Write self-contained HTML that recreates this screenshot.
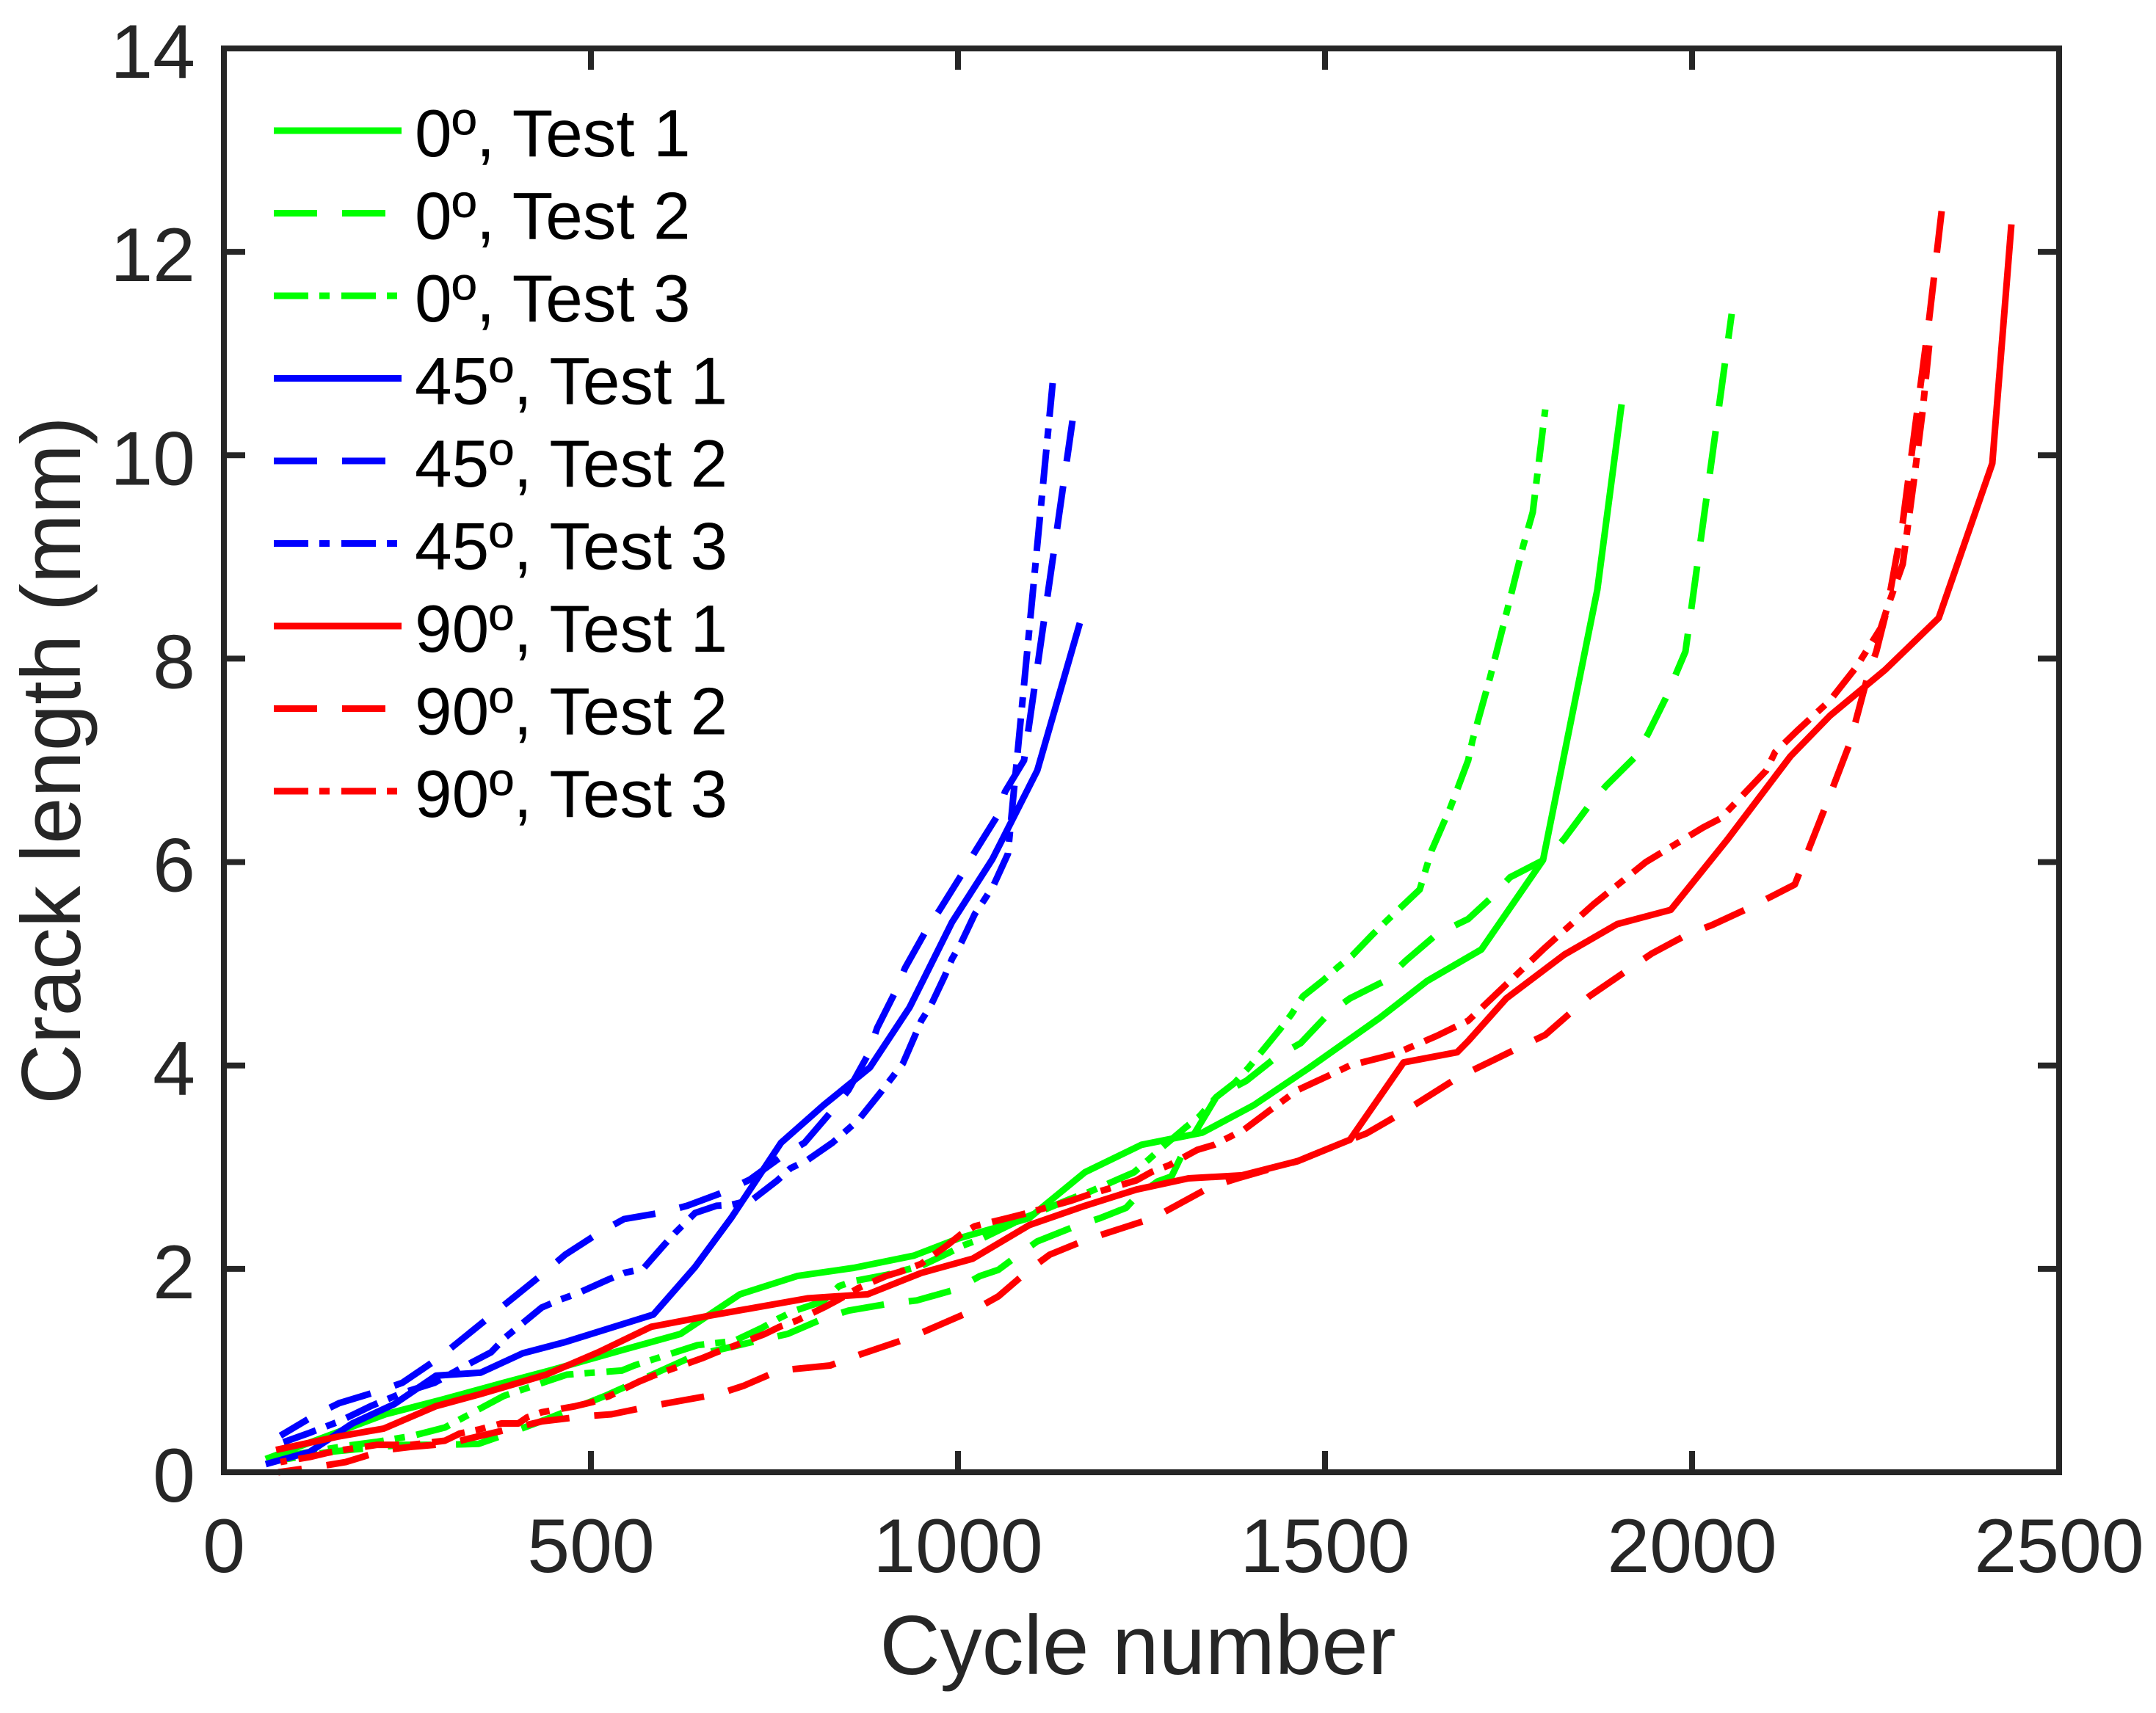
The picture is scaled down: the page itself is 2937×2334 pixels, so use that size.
<!DOCTYPE html>
<html lang="en">
<head>
<meta charset="utf-8">
<title>Crack length vs cycle number</title>
<style>
html,body{margin:0;padding:0;background:#fff;}
svg{display:block;}
text{font-family:"Liberation Sans",Arial,sans-serif;}
</style>
</head>
<body>
<svg id="chart" xmlns="http://www.w3.org/2000/svg" width="2937" height="2334" viewBox="0 0 2937 2334">
<rect x="0" y="0" width="2937" height="2334" fill="#ffffff"/>
<g id="series"></g>
<rect x="305" y="66" width="2500" height="1940" fill="none" stroke="#262626" stroke-width="8"/>
<g id="ticks"></g>
<text x="1550" y="2281" font-size="114" fill="#262626" text-anchor="middle">Cycle number</text>
<text transform="translate(109 1036) rotate(-90)" font-size="114" fill="#262626" text-anchor="middle">Crack length (mm)</text>
<g id="legend"></g>
</svg>
<script>
const xTicks = [0, 500, 1000, 1500, 2000, 2500];
const yTicks = [0, 2, 4, 6, 8, 10, 12, 14];

const legendLabels = ["0º, Test 1", "0º, Test 2", "0º, Test 3", "45º, Test 1", "45º, Test 2", "45º, Test 3", "90º, Test 1", "90º, Test 2", "90º, Test 3"];

const cycles0T1 = [57, 220, 295, 381, 444, 542, 622, 703, 781, 858, 940, 1001, 1097, 1173, 1250, 1333, 1403, 1479, 1575, 1639, 1713, 1797, 1871, 1904];
const crack0T1 = [0.13, 0.57, 0.71, 0.88, 1.0, 1.2, 1.36, 1.75, 1.93, 2.01, 2.13, 2.3, 2.5, 2.95, 3.22, 3.34, 3.61, 3.98, 4.47, 4.83, 5.14, 6.02, 8.68, 10.5];

const cycles0T2 = [77, 143, 243, 301, 347, 387, 439, 519, 642, 731, 768, 816, 851, 908, 944, 998, 1030, 1055, 1081, 1108, 1160, 1194, 1229, 1243, 1272, 1291, 1307, 1352, 1393, 1435, 1467, 1505, 1534, 1581, 1610, 1652, 1695, 1725, 1752, 1803, 1826, 1859, 1883, 1922, 1940, 1964, 1991, 2054];
const crack0T2 = [0.12, 0.2, 0.27, 0.27, 0.28, 0.38, 0.52, 0.75, 1.15, 1.3, 1.36, 1.51, 1.59, 1.66, 1.69, 1.8, 1.93, 1.99, 2.13, 2.27, 2.42, 2.5, 2.6, 2.71, 2.86, 2.91, 3.15, 3.69, 3.85, 4.09, 4.22, 4.51, 4.66, 4.83, 5.03, 5.29, 5.44, 5.64, 5.85, 6.04, 6.23, 6.55, 6.75, 7.03, 7.26, 7.61, 8.07, 11.39];

const cycles0T3 = [77, 166, 209, 258, 301, 381, 426, 467, 542, 559, 645, 695, 733, 755, 778, 816, 838, 858, 902, 950, 988, 1007, 1033, 1090, 1154, 1180, 1240, 1259, 1279, 1310, 1329, 1352, 1377, 1396, 1438, 1454, 1470, 1498, 1518, 1537, 1565, 1585, 1629, 1645, 1671, 1695, 1701, 1725, 1749, 1770, 1783, 1800];
const crack0T3 = [0.15, 0.26, 0.3, 0.36, 0.44, 0.75, 0.86, 0.96, 1.0, 1.05, 1.25, 1.29, 1.42, 1.51, 1.59, 1.68, 1.83, 1.88, 1.94, 2.03, 2.16, 2.23, 2.3, 2.5, 2.69, 2.76, 2.95, 3.07, 3.2, 3.39, 3.5, 3.69, 3.83, 3.98, 4.35, 4.5, 4.68, 4.84, 4.97, 5.08, 5.29, 5.43, 5.73, 6.11, 6.54, 7.0, 7.2, 7.82, 8.5, 9.11, 9.44, 10.45];

const cycles45T1 = [57, 117, 175, 232, 289, 350, 407, 465, 585, 642, 691, 759, 817, 880, 934, 992, 1047, 1108, 1166];
const crack45T1 = [0.08, 0.2, 0.48, 0.67, 0.95, 0.98, 1.17, 1.28, 1.55, 2.02, 2.5, 3.24, 3.61, 3.98, 4.57, 5.41, 6.03, 6.9, 8.35];

const cycles45T2 = [77, 126, 157, 212, 243, 292, 364, 436, 465, 510, 545, 594, 631, 683, 717, 759, 791, 829, 851, 877, 890, 915, 928, 956, 976, 1007, 1023, 1055, 1064, 1090, 1156];
const crack45T2 = [0.36, 0.57, 0.68, 0.8, 0.88, 1.12, 1.54, 1.96, 2.14, 2.35, 2.49, 2.55, 2.62, 2.76, 2.88, 3.1, 3.24, 3.56, 3.76, 4.1, 4.37, 4.73, 4.96, 5.32, 5.54, 5.9, 6.1, 6.47, 6.69, 7.0, 10.34];

const cycles45T3 = [71, 114, 157, 200, 220, 243, 287, 327, 364, 384, 401, 433, 459, 482, 522, 545, 571, 599, 614, 642, 671, 691, 720, 754, 772, 795, 829, 864, 893, 909, 925, 940, 950, 963, 982, 992, 1004, 1023, 1036, 1049, 1068, 1076, 1081, 1129];
const crack45T3 = [0.27, 0.38, 0.5, 0.65, 0.71, 0.78, 0.88, 1.04, 1.18, 1.33, 1.43, 1.62, 1.7, 1.76, 1.89, 1.96, 2.0, 2.23, 2.35, 2.55, 2.62, 2.63, 2.68, 2.87, 2.99, 3.07, 3.24, 3.46, 3.72, 3.87, 4.02, 4.27, 4.44, 4.59, 4.88, 5.05, 5.2, 5.49, 5.63, 5.78, 6.08, 6.69, 7.06, 10.71];

const cycles90T1 = [71, 155, 218, 289, 350, 439, 510, 582, 662, 795, 877, 950, 1020, 1097, 1173, 1243, 1314, 1387, 1463, 1534, 1607, 1680, 1695, 1747, 1826, 1898, 1971, 2048, 2134, 2188, 2263, 2336, 2409, 2435];
const crack90T1 = [0.22, 0.35, 0.43, 0.65, 0.77, 0.96, 1.18, 1.43, 1.54, 1.71, 1.75, 1.96, 2.1, 2.43, 2.62, 2.78, 2.89, 2.92, 3.06, 3.27, 4.03, 4.13, 4.24, 4.66, 5.09, 5.39, 5.53, 6.22, 7.04, 7.44, 7.89, 8.4, 9.92, 12.27];

const cycles90T2 = [74, 132, 166, 220, 255, 304, 433, 490, 528, 582, 620, 674, 708, 756, 826, 851, 937, 1023, 1055, 1097, 1125, 1176, 1266, 1345, 1381, 1463, 1534, 1556, 1604, 1683, 1800, 1860, 1945, 1994, 2027, 2078, 2140, 2182, 2215, 2239, 2251, 2266, 2287, 2323, 2340];
const crack90T2 = [0.0, 0.06, 0.1, 0.22, 0.25, 0.28, 0.5, 0.55, 0.57, 0.65, 0.7, 0.77, 0.85, 1.0, 1.05, 1.12, 1.33, 1.6, 1.73, 1.99, 2.14, 2.29, 2.5, 2.81, 2.89, 3.06, 3.27, 3.33, 3.53, 3.89, 4.3, 4.68, 5.1, 5.29, 5.38, 5.55, 5.78, 6.55, 7.17, 7.82, 8.07, 8.5, 9.34, 11.34, 12.4];

const cycles90T3 = [77, 117, 140, 163, 209, 255, 301, 321, 347, 378, 401, 413, 433, 479, 502, 525, 565, 585, 608, 651, 671, 694, 737, 757, 780, 820, 838, 864, 902, 925, 950, 985, 1004, 1023, 1068, 1090, 1154, 1178, 1243, 1263, 1288, 1326, 1349, 1390, 1425, 1463, 1505, 1534, 1594, 1652, 1695, 1797, 1865, 1937, 2015, 2039, 2101, 2113, 2143, 2188, 2224, 2257, 2266, 2287, 2290, 2302, 2314, 2323];
const crack90T3 = [0.1, 0.15, 0.19, 0.22, 0.27, 0.27, 0.31, 0.38, 0.42, 0.48, 0.48, 0.54, 0.59, 0.65, 0.69, 0.75, 0.89, 0.95, 1.01, 1.12, 1.18, 1.24, 1.36, 1.43, 1.49, 1.63, 1.7, 1.81, 1.93, 1.98, 2.05, 2.23, 2.34, 2.42, 2.5, 2.54, 2.67, 2.73, 2.87, 2.95, 3.02, 3.17, 3.22, 3.37, 3.56, 3.76, 3.9, 4.0, 4.11, 4.29, 4.44, 5.14, 5.58, 6.0, 6.34, 6.43, 6.9, 7.08, 7.29, 7.59, 7.92, 8.3, 8.5, 8.93, 9.09, 9.74, 10.43, 11.08];

const NS = 'http://www.w3.org/2000/svg';
const AX = {left: 305, right: 2805, top: 66, bottom: 2006, xMax: 2500, yMax: 14};
function xPos(v) { return AX.left + (v / AX.xMax) * (AX.right - AX.left); }
function yPos(v) { return AX.bottom - (v / AX.yMax) * (AX.bottom - AX.top); }

const DASH = {solid: 'none', dashed: '59 34', dashdot: '47 15 14 16'};
const GREEN = '#00ff00', BLUE = '#0000ff', RED = '#ff0000';
const LINE_WIDTH = 9;

function make(tag, parent) {
  const el = document.createElementNS(NS, tag);
  parent.appendChild(el);
  return el;
}
function linePath(xs, ys) {
  return xs.map(function (x, i) { return (i ? 'L' : 'M') + xPos(x).toFixed(1) + ' ' + yPos(ys[i]).toFixed(1); }).join(' ');
}
function styleLine(el, color, dash) {
  el.setAttribute('fill', 'none');
  el.setAttribute('stroke', color);
  el.setAttribute('stroke-width', LINE_WIDTH);
  el.setAttribute('stroke-linejoin', 'round');
  el.setAttribute('stroke-linecap', 'butt');
  if (dash !== 'none') el.setAttribute('stroke-dasharray', dash);
}

const seriesGroup = document.getElementById('series');
const ticksGroup = document.getElementById('ticks');
const legendGroup = document.getElementById('legend');

function drawSeries(xs, ys, color, dash, name, endPhase) {
  const p = make('path', seriesGroup);
  p.setAttribute('d', linePath(xs, ys));
  styleLine(p, color, dash);
  if (dash !== 'none') p.setAttribute('stroke-dashoffset', endPhase - p.getTotalLength());
  
  
}
drawSeries(cycles0T1, crack0T1, GREEN, DASH.solid, 'series-0deg-test-1', 0);
drawSeries(cycles0T2, crack0T2, GREEN, DASH.dashed, 'series-0deg-test-2', 34);
drawSeries(cycles0T3, crack0T3, GREEN, DASH.dashdot, 'series-0deg-test-3', 72);
drawSeries(cycles45T1, crack45T1, BLUE, DASH.solid, 'series-45deg-test-1', 0);
drawSeries(cycles45T2, crack45T2, BLUE, DASH.dashed, 'series-45deg-test-2', 56);
drawSeries(cycles45T3, crack45T3, BLUE, DASH.dashdot, 'series-45deg-test-3', 46);
drawSeries(cycles90T1, crack90T1, RED, DASH.solid, 'series-90deg-test-1', 0);
drawSeries(cycles90T2, crack90T2, RED, DASH.dashed, 'series-90deg-test-2', 57);
drawSeries(cycles90T3, crack90T3, RED, DASH.dashdot, 'series-90deg-test-3', 46);

const TICK_LEN = 29;
xTicks.forEach(function (v) {
  const x = xPos(v);
  if (v > 0 && v < AX.xMax) {
    const bottomTick = make('line', ticksGroup);
    bottomTick.setAttribute('x1', x);
    bottomTick.setAttribute('x2', x);
    bottomTick.setAttribute('y1', AX.bottom);
    bottomTick.setAttribute('y2', AX.bottom - TICK_LEN);
    bottomTick.setAttribute('stroke', '#262626');
    bottomTick.setAttribute('stroke-width', 8);
    
    
    const topTick = make('line', ticksGroup);
    topTick.setAttribute('x1', x);
    topTick.setAttribute('x2', x);
    topTick.setAttribute('y1', AX.top);
    topTick.setAttribute('y2', AX.top + TICK_LEN);
    topTick.setAttribute('stroke', '#262626');
    topTick.setAttribute('stroke-width', 8);
    
    
  }
  const label = make('text', ticksGroup);
  label.setAttribute('x', x);
  label.setAttribute('y', 2142);
  label.setAttribute('font-size', 104);
  label.setAttribute('fill', '#262626');
  label.setAttribute('text-anchor', 'middle');
  label.textContent = String(v);
  
  
});
yTicks.forEach(function (v) {
  const y = yPos(v);
  if (v > 0 && v < AX.yMax) {
    const leftTick = make('line', ticksGroup);
    leftTick.setAttribute('x1', AX.left);
    leftTick.setAttribute('x2', AX.left + TICK_LEN);
    leftTick.setAttribute('y1', y);
    leftTick.setAttribute('y2', y);
    leftTick.setAttribute('stroke', '#262626');
    leftTick.setAttribute('stroke-width', 8);
    
    
    const rightTick = make('line', ticksGroup);
    rightTick.setAttribute('x1', AX.right);
    rightTick.setAttribute('x2', AX.right - TICK_LEN);
    rightTick.setAttribute('y1', y);
    rightTick.setAttribute('y2', y);
    rightTick.setAttribute('stroke', '#262626');
    rightTick.setAttribute('stroke-width', 8);
    
    
  }
  const label = make('text', ticksGroup);
  label.setAttribute('x', 266);
  label.setAttribute('y', y + 40);
  label.setAttribute('font-size', 104);
  label.setAttribute('fill', '#262626');
  label.setAttribute('text-anchor', 'end');
  label.textContent = String(v);
  
  
});

const legendColors = [GREEN, GREEN, GREEN, BLUE, BLUE, BLUE, RED, RED, RED];
const legendDashes = [DASH.solid, DASH.dashed, DASH.dashdot, DASH.solid, DASH.dashed, DASH.dashdot, DASH.solid, DASH.dashed, DASH.dashdot];
legendLabels.forEach(function (text, i) {
  const y = 178 + i * 112.5;
  const sample = make('line', legendGroup);
  sample.setAttribute('x1', 373);
  sample.setAttribute('x2', 547);
  sample.setAttribute('y1', y);
  sample.setAttribute('y2', y);
  styleLine(sample, legendColors[i], legendDashes[i]);
  
  
  const label = make('text', legendGroup);
  label.setAttribute('x', 565);
  label.setAttribute('y', y + 35);
  label.setAttribute('font-size', 91);
  label.setAttribute('fill', '#000000');
  label.textContent = text;
  
  
});
</script>
</body>
</html>
